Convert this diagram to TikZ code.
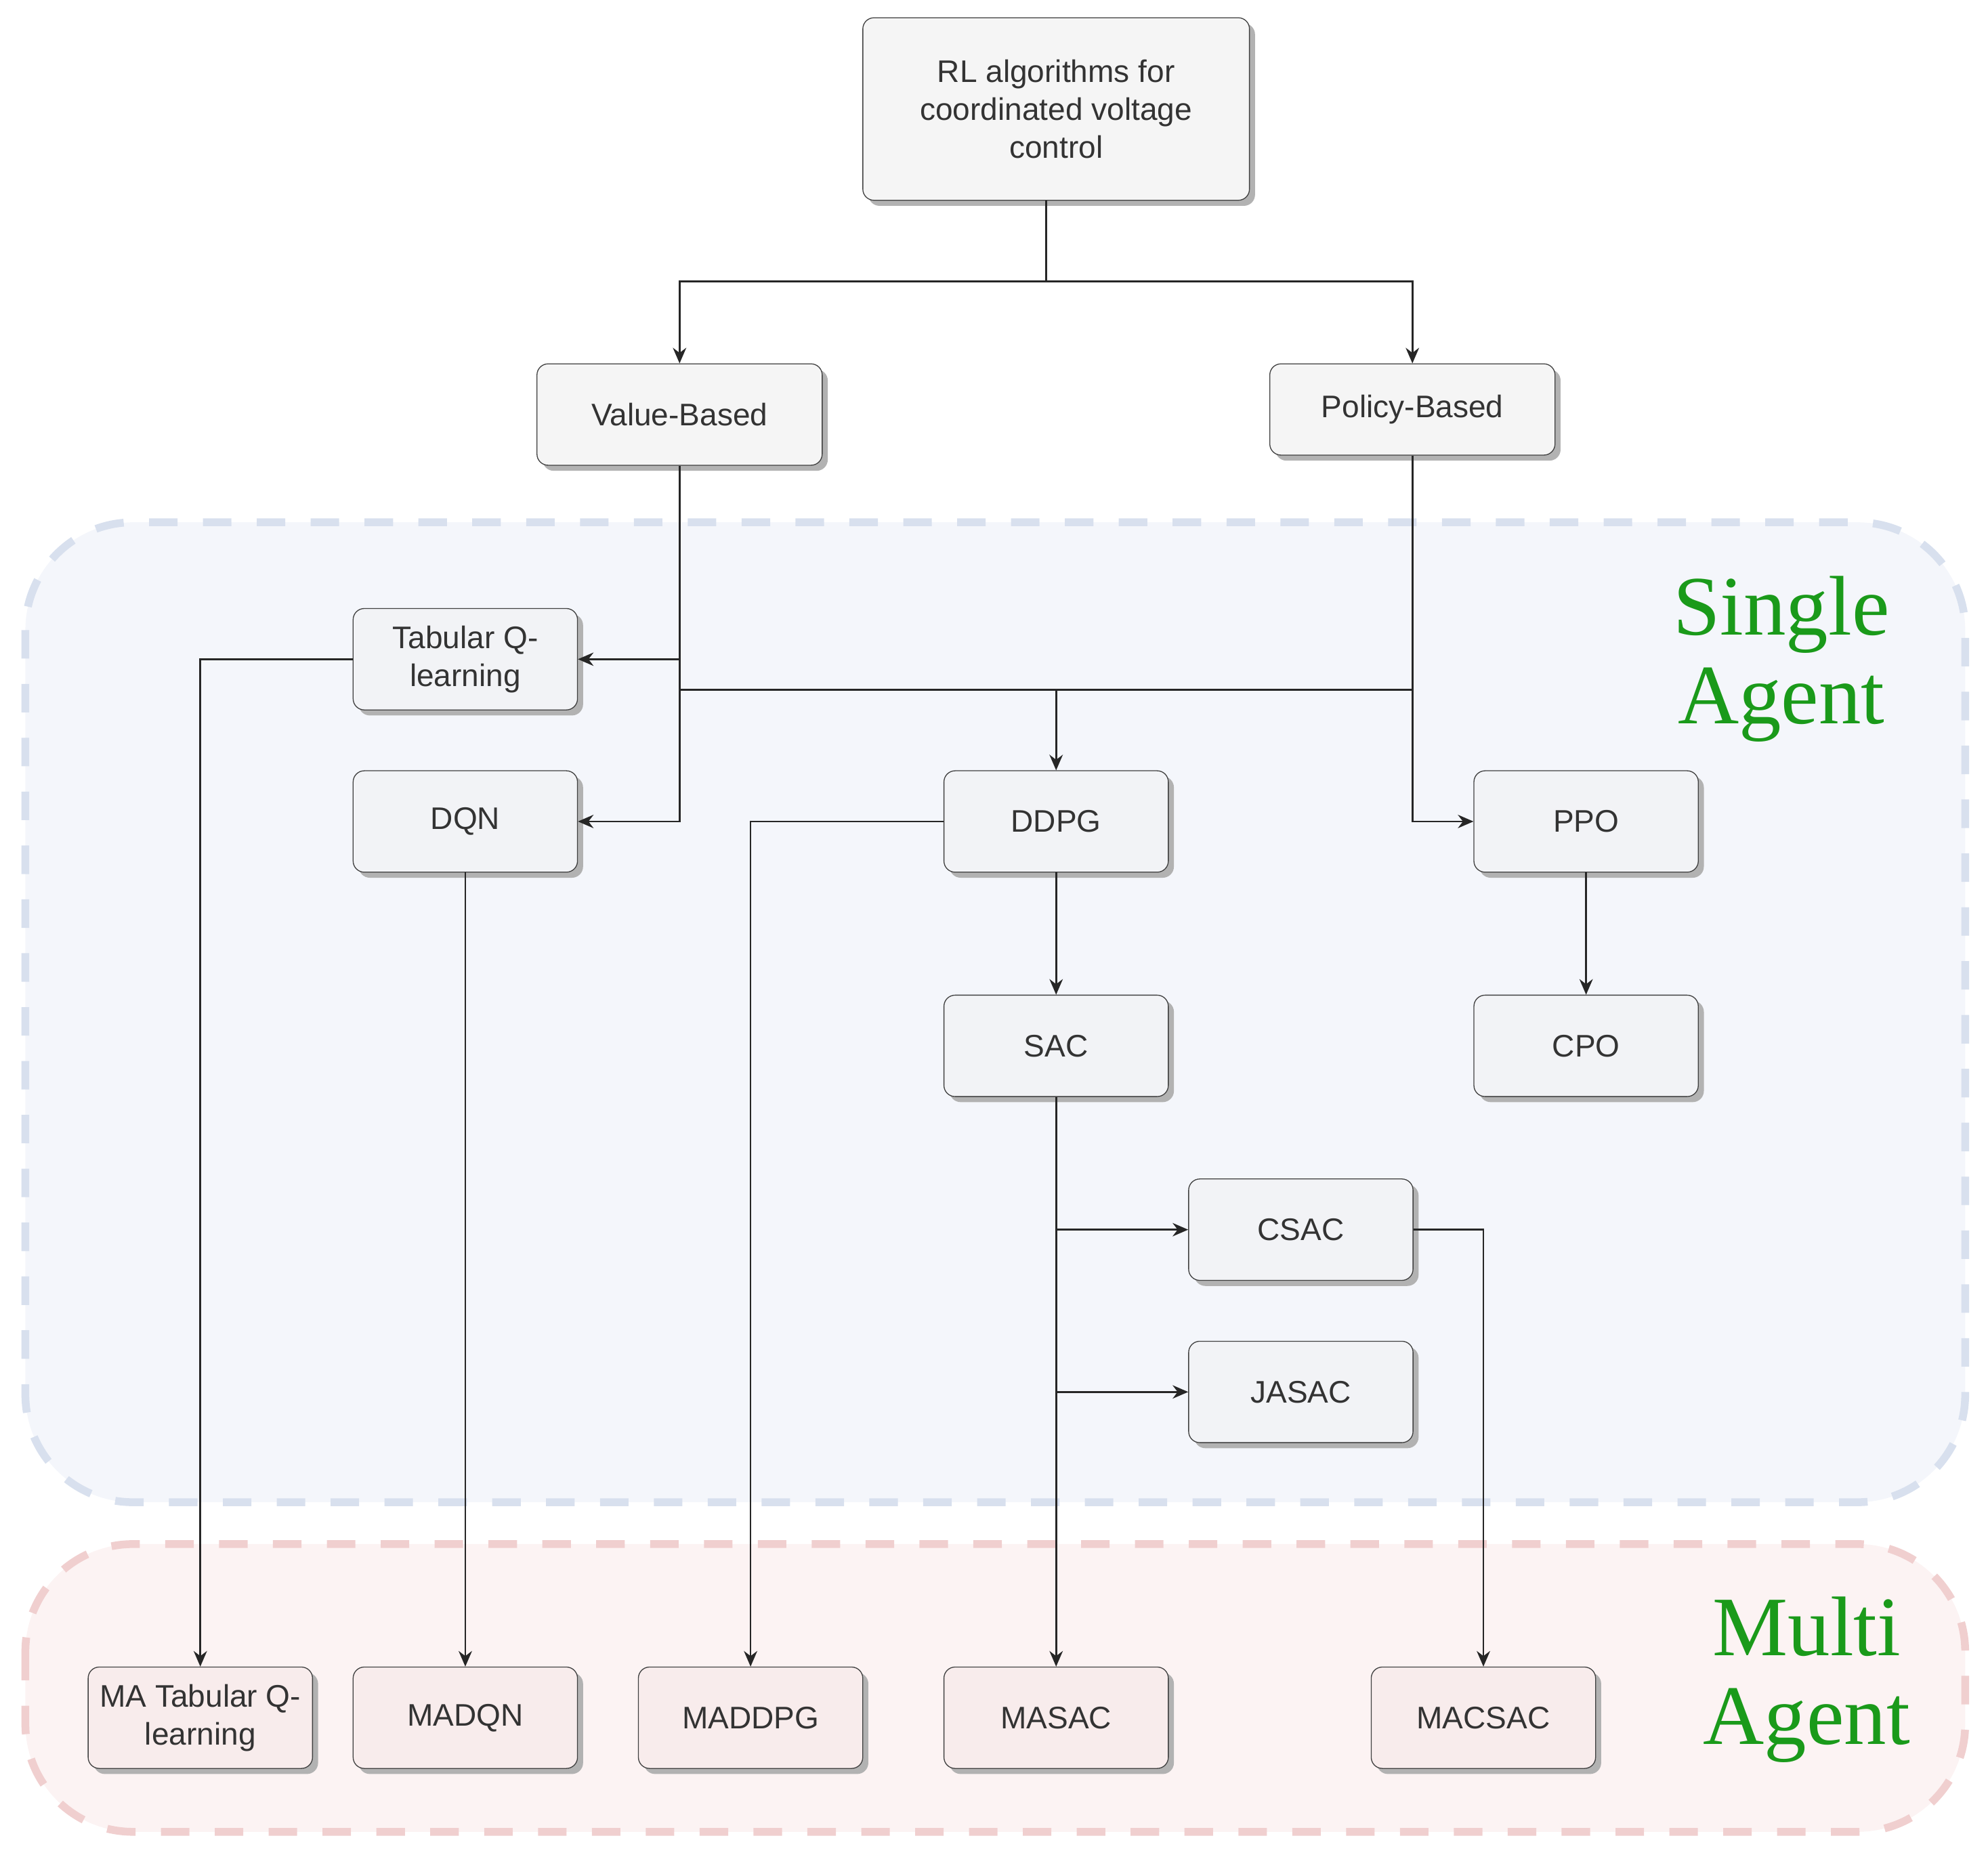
\documentclass[tikz,border=0pt]{standalone}
\usepackage{fontspec}
\setmainfont{Liberation Sans}
\newfontfamily\agentfont{Liberation Serif}
\usetikzlibrary{arrows.meta,positioning,shadows}
\definecolor{nodefill}{HTML}{F2F3F6}
\definecolor{mafill}{HTML}{F8ECEC}
\definecolor{sabg}{HTML}{F4F6FB}
\definecolor{saline}{HTML}{D8E0EE}
\definecolor{mabg}{HTML}{FCF3F3}
\definecolor{maline}{HTML}{F0CFCF}
\definecolor{agentgreen}{HTML}{1A9A1A}
\tikzset{
  box/.style={draw=black!75,rounded corners=5pt,fill=nodefill,minimum width=3.54cm,minimum height=1.6cm,
    align=center,font=\fontsize{14pt}{17pt}\selectfont,text=black!80,
    drop shadow={shadow xshift=2.5pt,shadow yshift=-2.5pt,fill=black!30,opacity=1}},
  mabox/.style={box,fill=mafill},
  link/.style={draw=black!85,line width=0.8pt,-{Stealth[length=7pt,width=6pt]}},
  plain/.style={draw=black!85,line width=0.8pt},
  region/.style={rounded corners=1.7cm,dash pattern=on 0.45cm off 0.4cm,line width=3.5pt},
  agent/.style={font=\agentfont\fontsize{38pt}{44pt}\selectfont,text=agentgreen,align=center}
}
\begin{document}
\begin{tikzpicture}[x=0.02cm,y=-0.02cm]
	\useasboundingbox (0,0) rectangle (1568,1463);
	% regions
	\draw[region,fill=sabg,draw=saline] (20,412) rectangle (1550,1185);
	\draw[region,fill=mabg,draw=maline] (20,1218) rectangle (1550,1445);
	\node[agent] at (1405,520) {Single\\[-4pt]Agent};
	\node[agent] at (1425,1325) {Multi\\[-4pt]Agent};

	% nodes
	\node[box,fill=black!4,minimum width=6.1cm,minimum height=2.88cm] (root) at (833,86) {RL algorithms for\\coordinated voltage\\control};
	\node[box,fill=black!4,minimum width=4.5cm] (value) at (536,327) {Value-Based};
	\node[box,fill=black!4,minimum width=4.5cm,minimum height=1.44cm] (policy) at (1114,323) {Policy-Based};
	\node[box] (tabq) at (367,520) {Tabular Q-\\learning};
	\node[box] (dqn) at (367,648) {DQN};
	\node[box] (ddpg) at (833,648) {DDPG};
	\node[box] (ppo) at (1251,648) {PPO};
	\node[box] (sac) at (833,825) {SAC};
	\node[box] (cpo) at (1251,825) {CPO};
	\node[box] (csac) at (1026,970) {CSAC};
	\node[box] (jasac) at (1026,1098) {JASAC};
	\node[mabox] (matabq) at (158,1355) {MA Tabular Q-\\learning};
	\node[mabox] (madqn) at (367,1355) {MADQN};
	\node[mabox] (maddpg) at (592,1355) {MADDPG};
	\node[mabox] (masac) at (833,1355) {MASAC};
	\node[mabox] (macsac) at (1170,1355) {MACSAC};

	% connectors
	\coordinate (split) at (825,222);
	\draw[plain] (split |- root.south) -- (split);
	\draw[link] (split) -| (value.north);
	\draw[link] (split) -| (policy.north);
	\draw[link] (value.south) |- (dqn.east);
	\draw[link] (value.south |- tabq.east) -- (tabq.east);
	\draw[link] (policy.south) |- (ppo.west);
	\coordinate (join) at (536,544);
	\draw[plain] (join) -- (join -| policy.south);
	\draw[link] (join -| ddpg.north) -- (ddpg.north);
	\draw[link] (tabq.west) -| (matabq.north);
	\draw[link] (dqn.south) -- (madqn.north);
	\draw[link] (ddpg.west) -| (maddpg.north);
	\draw[link] (ddpg.south) -- (sac.north);
	\draw[link] (ppo.south) -- (cpo.north);
	\draw[link] (sac.south) -- (masac.north);
	\draw[link] (sac.south |- csac.west) -- (csac.west);
	\draw[link] (sac.south |- jasac.west) -- (jasac.west);
	\draw[link] (csac.east) -| (macsac.north);
\end{tikzpicture}
\end{document}
